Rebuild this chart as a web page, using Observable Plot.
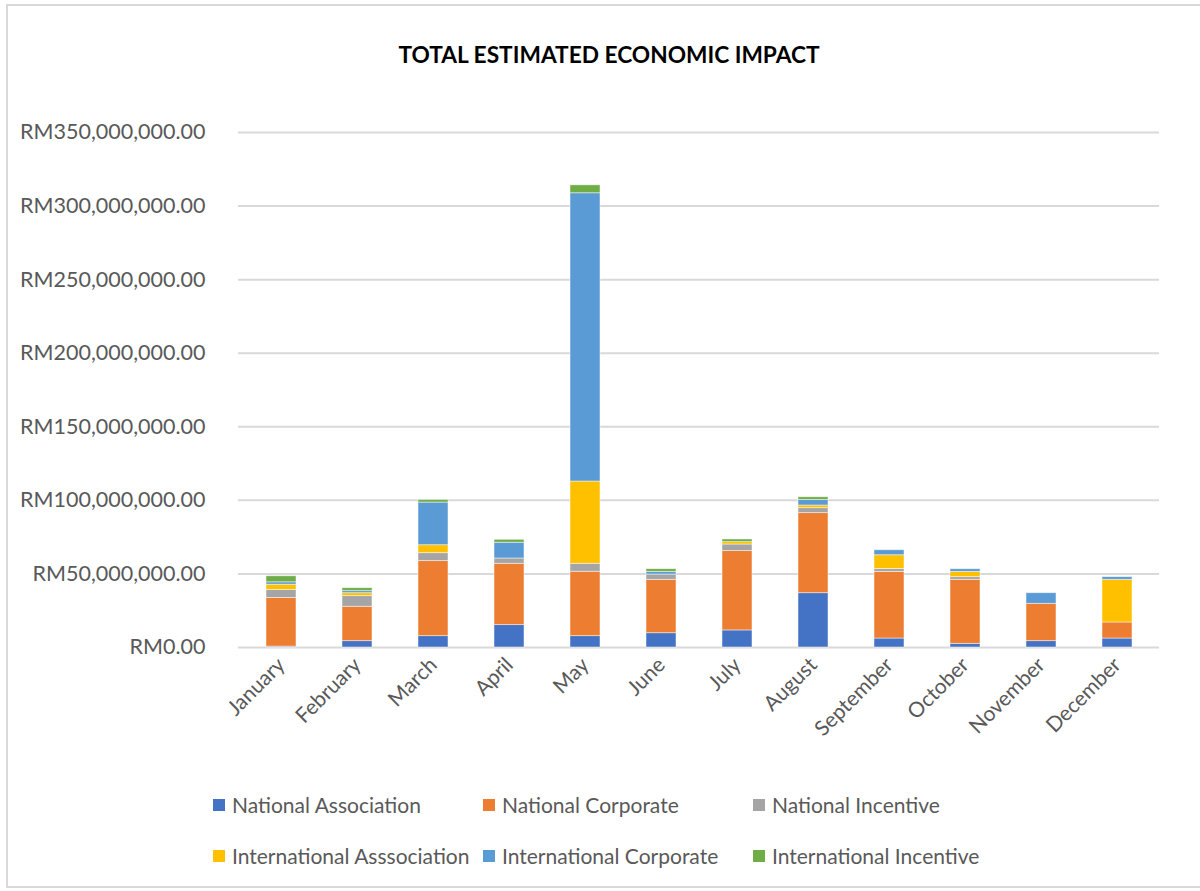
<!DOCTYPE html>
<html>
<head>
<meta charset="utf-8">
<script src="https://cdn.jsdelivr.net/npm/d3@7"></script>
<script src="https://cdn.jsdelivr.net/npm/@observablehq/plot@0.6"></script>
<style>
  html, body { margin: 0; padding: 0; background: #fff; }
  #wrap { position: relative; width: 1200px; height: 891px; overflow: hidden; font-family: Lato, "Open Sans", sans-serif; }
  #frame { position: absolute; left: 6px; top: 4px; width: 1200px; height: 884px; border: 2px solid #d9d9d9; box-sizing: border-box; }
  #title { position: absolute; left: 0; width: 1218px; top: 41px; text-align: center; font-weight: bold; font-size: 22.7px; color: #000; }
  #chart { position: absolute; left: 0; top: 100px; }
  .leg { position: absolute; display: flex; align-items: center; font-size: 21px; color: #595959; white-space: nowrap; }
  .leg span.sw { display: inline-block; width: 12px; height: 12px; margin-right: 7px; }
</style>
</head>
<body>
<div id="wrap">
  <div id="frame"></div>
  <div id="title">TOTAL ESTIMATED ECONOMIC IMPACT</div>
  <div id="chart"></div>
  <div id="legend"></div>
</div>
<script>
const months = ["January","February","March","April","May","June","July","August","September","October","November","December"];
const seriesNames = ["National Association","National Corporate","National Incentive","International Asssociation","International Corporate","International Incentive"];
const seriesColors = ["#4472C4","#ED7D31","#A5A5A5","#FFC000","#5B9BD5","#70AD47"];
// values in millions of RM
const nationalAssociation      = [0.6, 4.3, 7.7, 15.2, 7.7, 9.7, 11.6, 36.9, 6.1, 2.5, 4.3, 6.1];
const nationalCorporate        = [33.1, 23.4, 51.0, 41.7, 43.8, 36.3, 53.9, 54.4, 45.3, 43.5, 25.4, 10.9];
const nationalIncentive        = [5.4, 7.2, 5.4, 3.6, 5.4, 3.6, 4.5, 3.4, 2.0, 1.8, 0, 0];
const internationalAssociation = [3.6, 2.0, 5.4, 0, 55.9, 0, 1.6, 1.8, 9.3, 3.6, 0, 29.0];
const internationalCorporate   = [1.6, 1.4, 29.0, 10.7, 195.9, 1.8, 0, 3.8, 3.4, 1.8, 7.2, 1.8];
const internationalIncentive   = [4.1, 2.0, 1.8, 2.0, 5.4, 1.8, 1.8, 1.8, 0, 0, 0, 0];
const yTicks = [0, 50e6, 100e6, 150e6, 200e6, 250e6, 300e6, 350e6];

const seriesValues = [nationalAssociation, nationalCorporate, nationalIncentive, internationalAssociation, internationalCorporate, internationalIncentive];
const data = [];
seriesNames.forEach((s, i) => months.forEach((m, j) => data.push({series: s, month: m, value: seriesValues[i][j] * 1e6})));

const fmt = d => "RM" + d3.format(",.2f")(d);

const chart = Plot.plot({
  width: 1200,
  height: 690,
  marginTop: 32,
  marginBottom: 143,
  marginLeft: 238,
  marginRight: 41,
  style: {fontFamily: "Lato, 'Open Sans', sans-serif", color: "#595959", background: "transparent"},
  x: {domain: months, paddingInner: 0.61, paddingOuter: 0.305, label: null},
  y: {domain: [0, 350e6], label: null},
  color: {domain: seriesNames, range: seriesColors},
  marks: [
    Plot.gridY(yTicks, {stroke: "#d9d9d9", strokeOpacity: 1, strokeWidth: 2}),
    Plot.barY(data, {x: "month", y: "value", fill: "series", stroke: "white", strokeWidth: 0.8, strokeOpacity: 0.6}),
    Plot.axisY(yTicks, {tickSize: 0, tickPadding: 33, tickFormat: fmt, fontSize: 21.5, label: null}),
    Plot.axisX({tickSize: 0, tickRotate: -45, tickPadding: 14, fontSize: 21, label: null})
  ]
});
document.getElementById("chart").appendChild(chart);

const legend = document.getElementById("legend");
const legX = [213, 483, 753];
const legY = [805, 856];
seriesNames.forEach((s, i) => {
  const d = document.createElement("div");
  d.className = "leg";
  d.style.left = legX[i % 3] + "px";
  d.style.top = (legY[Math.floor(i / 3)] - 13) + "px";
  d.innerHTML = `<span class="sw" style="background:${seriesColors[i]}"></span><span>${s}</span>`;
  legend.appendChild(d);
});
</script>
</body>
</html>
